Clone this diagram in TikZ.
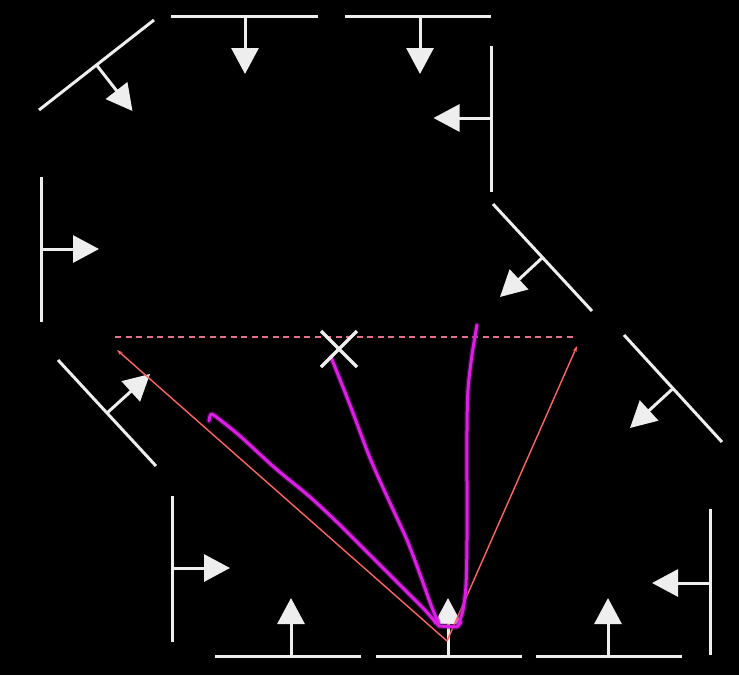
\documentclass[tikz,border=0pt]{standalone}
\usetikzlibrary{arrows.meta}
\definecolor{wallc}{RGB}{238,238,238}
\definecolor{dashpink}{RGB}{228,112,140}
\definecolor{raypink}{RGB}{255,100,100}
\definecolor{mag}{RGB}{222,30,230}
\tikzset{
  wall/.style={draw=wallc,line width=3pt},
  normal/.style={draw=wallc,fill=wallc,line width=3pt,-{Triangle[length=26pt,width=27pt]}},
  ray/.style={draw=raypink,line width=1.4pt,-{Stealth[length=6pt,width=4pt]}},
  stroke/.style={draw=mag,line width=3pt,line cap=round,line join=round},
  glow/.style={draw=mag!60!black,opacity=0.5,line width=5.5pt,line cap=round,line join=round},
}
\begin{document}
\begin{tikzpicture}[x=1pt,y=-1pt]
\fill[black] (0,0) rectangle (739,675);
\useasboundingbox (0,0) rectangle (739,675);
% walls and normals
\draw[wall] (39,110) -- (154,20);  \draw[normal] (96.5,65) -- (132.5,111);
\draw[wall] (171,16) -- (318,16);  \draw[normal] (245,16) -- (245,74);
\draw[wall] (345,16) -- (491,16);  \draw[normal] (420,16) -- (420,74);
\draw[wall] (491.5,46) -- (491.5,192); \draw[normal] (491.5,118) -- (433.5,118);
\draw[wall] (493,204) -- (592,311); \draw[normal] (542.5,257.5) -- (500,297);
\draw[wall] (41,177) -- (41,322);  \draw[normal] (41,249) -- (99,249);
\draw[wall] (58,360) -- (156,466); \draw[normal] (107,413) -- (150,374);
\draw[wall] (624,335) -- (722,442); \draw[normal] (673,388.5) -- (630,428);
\draw[wall] (172,496) -- (172,642); \draw[normal] (172,568) -- (230,568);
\draw[wall] (215,656) -- (361,656); \draw[normal] (291,656) -- (291,598);
\draw[wall] (376,656) -- (522,656); \draw[normal] (448,656) -- (448,598);
\draw[wall] (536,656) -- (682,656); \draw[normal] (608,656) -- (608,598);
\draw[wall] (710,509) -- (710,655); \draw[normal] (710,583) -- (652,583);
% dashed line
\draw[dashpink,line width=2pt,dash pattern=on 6pt off 4.5pt] (115,337) -- (577,337);
% pink rays
\coordinate (o) at (447,641);
\coordinate (l) at (117,350);
\coordinate (r) at (577,346);
\draw[ray] (o) -- (l);
\draw[ray] (o) -- (r);
% magenta strokes
\foreach \s in {glow,stroke}{
\draw[\s] plot[smooth] coordinates {(209,421) (210.5,415) (215,416) (240,436) (275,468) (310,497) (340,525) (370,555) (400,585) (424,609) (436,623)};
\draw[\s] plot[smooth] coordinates {(331,357) (350,405) (370,458) (390,503) (407,540) (421,577) (431,605) (438,622)};
\draw[\s] plot[smooth] coordinates {(477,325) (472,355) (468,390) (467,430) (467,487) (467,540) (466,585) (463,610) (458,625)};
\draw[\s] (436,622) -- (439,626) -- (457,627) -- (461,622);
}
% X
\draw[wallc,line width=3.5pt] (321,331) -- (357,367) (321,367) -- (357,331);
\end{tikzpicture}
\end{document}
